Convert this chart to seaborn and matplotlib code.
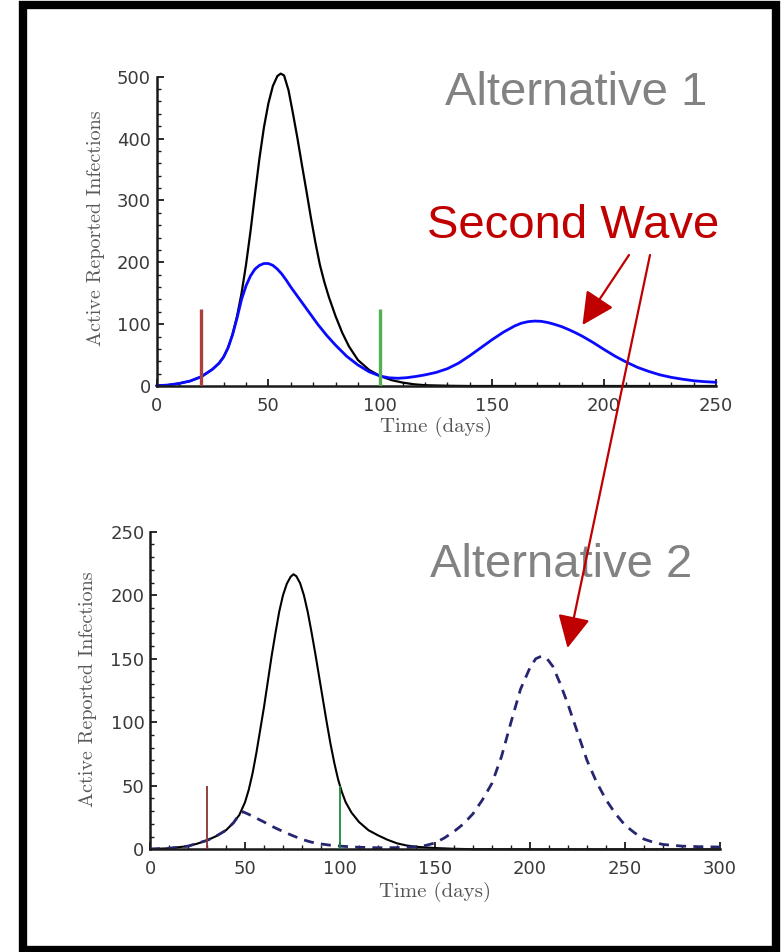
import matplotlib
matplotlib.use("Agg")
import matplotlib.pyplot as plt
import seaborn as sns
from matplotlib.patches import FancyArrowPatch, Rectangle
from matplotlib.ticker import MultipleLocator

# ---------------- data ----------------
# Alternative 1 (top panel)
top_days_black = [0, 5, 10, 15, 20, 25, 28, 30, 32, 34, 36, 38, 40, 42, 44, 46, 48, 50, 52, 54,
                  55.5, 57, 59, 61, 63, 65, 67, 69, 71, 73, 75, 77, 80, 83, 86, 90, 95, 100, 105, 110,
                  115, 120, 130, 140, 150, 200, 250]
top_black = [0.5, 1.5, 4, 8, 15, 27, 37, 47, 62, 84, 113, 150, 196, 250, 310, 368, 418, 457, 485, 501,
             505, 502, 478, 440, 400, 357, 315, 272, 232, 196, 168, 144, 113, 86, 64, 42, 26, 16, 9.5, 5.5,
             2.8, 1.3, 0.4, 0, 0, 0, 0]

top_days_blue = [0, 5, 10, 15, 20, 25, 28, 30, 32, 34, 36, 38, 40, 42, 44, 46, 48, 50, 52, 54,
                 56, 58, 60, 62, 64, 68, 72, 76, 80, 85, 90, 95, 100, 104, 108, 112, 116, 120, 125, 130,
                 135, 140, 145, 150, 155, 160, 163, 166, 169, 172, 175, 178, 181, 184, 187, 190, 195, 200, 205, 210,
                 215, 220, 225, 230, 235, 240, 245, 250]
top_blue = [0.5, 1.5, 4, 8, 15, 27, 37, 47, 62, 83, 110, 140, 162, 178, 189, 195, 198, 198, 195, 189,
            181, 171, 160, 150, 140, 120, 100, 82, 66, 48, 34, 23, 16, 13.2, 12.5, 13.5, 15.5, 18, 22, 28,
            37, 49, 62, 75, 87, 97, 101.5, 104, 105, 104.5, 102.5, 99.5, 96, 91.5, 86.5, 81, 70.5, 59, 48, 38.5,
            30, 23.5, 18, 14, 11, 8.5, 7, 6]

top_marker_days = [20, 100]
top_marker_height = 125

# Alternative 2 (bottom panel)
bot_days_black = [0, 10, 20, 25, 30, 35, 40, 44, 47, 50, 52, 54, 56, 58, 60, 62, 64, 66, 68, 70,
                  72, 74, 75.5, 77, 79, 81, 83, 85, 87, 89, 91, 93, 95, 97, 99, 101, 103, 106, 110, 115,
                  120, 125, 130, 135, 140, 150, 160, 170, 200, 250, 300]
bot_black = [0.2, 0.8, 2.5, 4.5, 7, 10.5, 15, 21, 27, 37, 47, 60, 76, 94, 112, 132, 152, 170, 187, 200,
             209, 214.5, 216.5, 215, 209.5, 200, 187, 171, 154, 136, 118, 100, 83, 68, 55, 45, 37, 29, 21.5, 15,
             11, 7.5, 4.7, 3, 2, 1, 0.4, 0.1, 0, 0, 0]

bot_days_dashed = [0, 10, 20, 30, 35, 40, 44, 47, 49, 52, 56, 60, 65, 70, 75, 80, 85, 90, 95, 100,
                   110, 120, 130, 140, 145, 150, 155, 160, 165, 170, 175, 180, 185, 190, 195, 200, 203, 206, 209, 212,
                   216, 220, 225, 230, 235, 240, 245, 250, 255, 260, 265, 270, 280, 290, 300]
bot_dashed = [0.2, 0.8, 2.5, 7, 10.5, 15, 21, 27.5, 29.5, 27.5, 24.5, 21.5, 17.5, 14, 10.8, 7.8, 5.6, 4.2, 3.2, 2.5,
              1.6, 1.2, 1.3, 2, 3, 5, 9, 14, 20, 28, 39, 52, 73, 100, 126, 143, 150, 152, 150, 144,
              130, 114, 92, 70, 53, 39, 28, 19, 13, 8, 5.5, 3.8, 2.5, 2, 1.8]

bot_marker_days = [30, 100]
bot_marker_height = 50

top_xticks = [0, 50, 100, 150, 200, 250]
top_yticks = [0, 100, 200, 300, 400, 500]
bot_xticks = [0, 50, 100, 150, 200, 250, 300]
bot_yticks = [0, 50, 100, 150, 200, 250]

xlabel_text = "Time (days)"
ylabel_text = "Active Reported Infections"

# ---------------- style ----------------
sns.set_style("ticks")
plt.rcParams['font.family'] = ['DejaVu Sans']

W, H = 782, 952
fig = plt.figure(figsize=(W / 100, H / 100), dpi=100)
fig.patch.set_facecolor("white")

ax1 = fig.add_axes([156.5 / W, 1 - 386 / H, (716 - 156.5) / W, (386 - 76.7) / H])
ax2 = fig.add_axes([150 / W, 1 - 849.3 / H, 570 / W, 317.6 / H])

line_kw = dict(solid_joinstyle="round", solid_capstyle="round", clip_on=False)

# top curves
sns.lineplot(x=top_days_black, y=top_black, ax=ax1, color="black", linewidth=1.6, **line_kw)
sns.lineplot(x=top_days_blue, y=top_blue, ax=ax1, color="#0a0aff", linewidth=2.0, **line_kw)
ax1.vlines(top_marker_days, 0, top_marker_height, colors=["#a8403c", "#52b04e"], linewidth=2.4, zorder=4)

# bottom curves
sns.lineplot(x=bot_days_black, y=bot_black, ax=ax2, color="black", linewidth=1.5, **line_kw)
sns.lineplot(x=bot_days_dashed, y=bot_dashed, ax=ax2, color="#262670", linewidth=2.0,
             linestyle=(0, (3.6, 2.6)), dash_joinstyle="round")
ax2.vlines(bot_marker_days, 0, bot_marker_height, colors=["#8e3232", "#1f8a3c"], linewidth=1.3, zorder=4)

for ax, xt, yt, xmin_step, ymin_step, xlim, ylim in [
        (ax1, top_xticks, top_yticks, 10, 20, (0, 250), (0, 500)),
        (ax2, bot_xticks, bot_yticks, 10, 10, (0, 300), (0, 250))]:
    ax.set_xlim(*xlim)
    ax.set_ylim(*ylim)
    ax.set_xticks(xt)
    ax.set_yticks(yt)
    ax.xaxis.set_minor_locator(MultipleLocator(xmin_step))
    ax.yaxis.set_minor_locator(MultipleLocator(ymin_step))
    sns.despine(ax=ax)
    for s in ("left", "bottom"):
        ax.spines[s].set_linewidth(1.8)
        ax.spines[s].set_color("#1a1a1a")
    ax.tick_params(which="major", direction="in", length=5, width=1.3, color="#1a1a1a",
                   labelsize=13, labelcolor="#3a3a3a")
    ax.tick_params(which="minor", direction="in", length=3, width=1.0, color="#1a1a1a")
    ax.tick_params(axis="x", which="major", pad=8)
    ax.tick_params(axis="y", which="major", pad=4)
    ax.set_xlabel(xlabel_text, family="cmr10", fontsize=15, color="#555555")
    ax.set_ylabel(ylabel_text, family="cmr10", fontsize=14.5, color="#5a5a5a")
    ax.xaxis.label.set_verticalalignment("center")
    ax.yaxis.label.set_verticalalignment("center")
    ax.set_facecolor("white")

ax1.xaxis.set_label_coords(0.5, -0.133)
ax1.yaxis.set_label_coords(-0.108, 0.51)
ax2.xaxis.set_label_coords(0.5, -0.134)
ax2.yaxis.set_label_coords(-0.109, 0.503)

# ---------------- slide annotations ----------------
fig.text(445 / W, 1 - 105 / H, "Alternative 1", family="Liberation Sans", fontsize=34,
         color="#828282", va="baseline", ha="left")
fig.text(427 / W, 1 - 238 / H, "Second Wave", family="Liberation Sans", fontsize=34,
         color="#c00000", va="baseline", ha="left")
fig.text(430 / W, 1 - 577 / H, "Alternative 2", family="Liberation Sans", fontsize=34,
         color="#828282", va="baseline", ha="left")

arrow_style = "-|>,head_length=1.0,head_width=0.5"
for (xa, ya), (xb, yb) in [((629, 255), (582.5, 325)), ((650, 255), (567.5, 648))]:
    arr = FancyArrowPatch((xa / W, 1 - ya / H), (xb / W, 1 - yb / H), transform=fig.transFigure,
                          arrowstyle=arrow_style, mutation_scale=20, color="#c00000",
                          linewidth=1.6, shrinkA=0, shrinkB=0, zorder=6)
    fig.add_artist(arr)

# slide frame
frame = Rectangle((23 / W, 1 - 949.5 / H), (776 - 23) / W, (949.5 - 4.5) / H,
                  transform=fig.transFigure, fill=False, edgecolor="black", linewidth=6, zorder=7)
fig.add_artist(frame)

fig.savefig("out.png", dpi=100)
